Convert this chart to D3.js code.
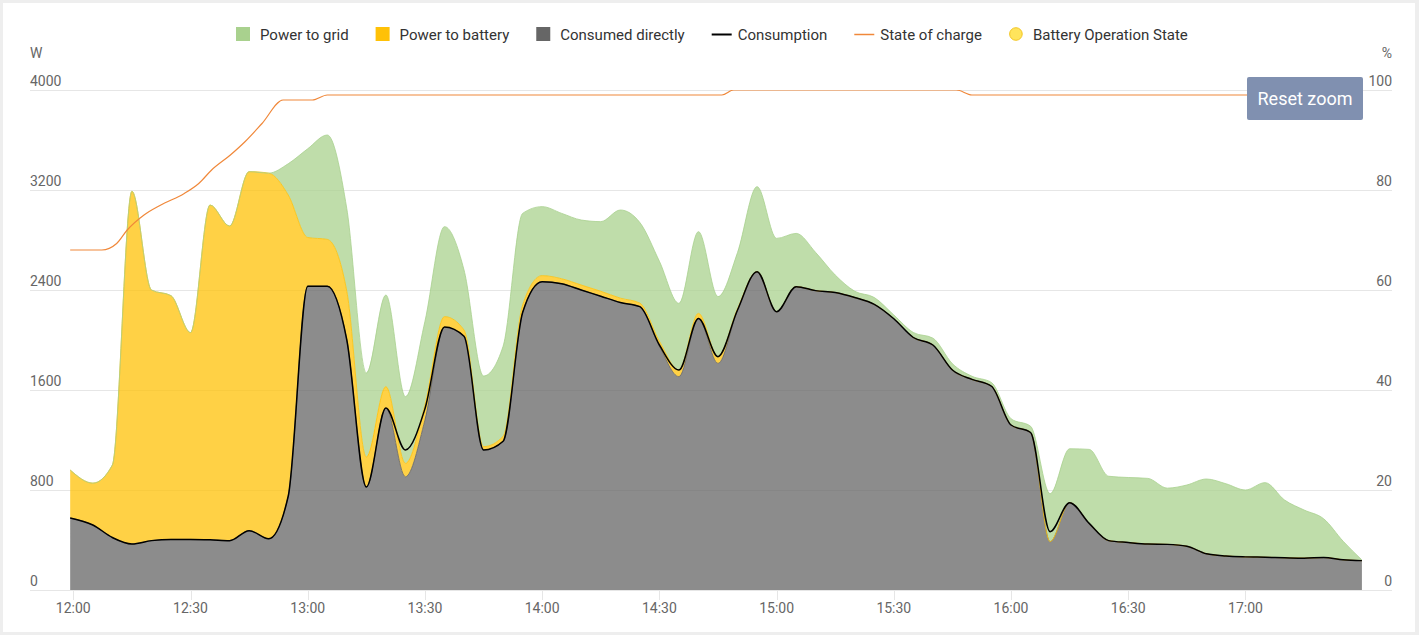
<!DOCTYPE html>
<html><head><meta charset="utf-8">
<script src="https://cdn.jsdelivr.net/npm/d3@7"></script>
<style>
html,body{margin:0;padding:0;background:#eeeeee;}
svg{display:block;font-family:Roboto,"Noto Sans",sans-serif;}
</style>
</head><body>
<svg id="chart" width="1419" height="635"></svg>
<script>
// ---------- DATA ----------
const times = ["11:59:12","12:05","12:10","12:15","12:20","12:25","12:30","12:35","12:40","12:45","12:50","12:55",
"13:00","13:05","13:10","13:15","13:20","13:25","13:30","13:35","13:40","13:45","13:50","13:55",
"14:00","14:05","14:10","14:15","14:20","14:25","14:30","14:35","14:40","14:45","14:50","14:55",
"15:00","15:05","15:10","15:15","15:20","15:25","15:30","15:35","15:40","15:45","15:50","15:55",
"16:00","16:05","16:10","16:15","16:20","16:25","16:30","16:35","16:40","16:45","16:50","16:55",
"17:00","17:05","17:10","17:15","17:20","17:25","17:29:48"];

const consumedDirectly = [576,520,420,368,395,405,405,402,395,475,410,750,2430,2430,2000,824,1456,906,1360,2100,2030,
1120,1190,2220,2467,2450,2400,2350,2300,2267,1950,1707,2173,1813,2240,2547,2227,2427,2395,2380,2340,
2285,2170,2020,1960,1760,1685,1630,1320,1260,387,699,533,395,380,368,365,350,290,272,265,262,258,255,260,242,235];

const powerToBattery = [384,335,580,2822,2005,1950,1655,2678,2517,2872,2925,2410,390,375,390,240,171,107,120,87,
50,27,40,60,48,40,40,40,35,28,40,53,40,54,10,0,0,0,0,0,0,0,0,0,0,0,0,0,0,0,0,0,0,0,0,0,0,0,0,0,0,0,0,0,0,0,0];

const powerToGrid = [0,0,0,0,0,0,0,0,0,0,0,250,710,835,660,672,733,534,670,720,480,
565,720,733,552,523,520,557,705,645,640,533,654,480,450,680,586,426,305,140,50,
55,30,40,55,50,25,30,50,50,383,431,592,515,520,525,450,490,598,578,535,597,462,385,310,148,5];

const consumption = [576,520,420,368,395,405,405,402,395,475,410,750,2430,2430,2000,824,1456,1120,1450,2105,2030,
1120,1190,2220,2467,2450,2400,2350,2300,2267,1960,1760,2173,1867,2240,2547,2227,2427,2395,2380,2340,
2285,2170,2020,1960,1760,1685,1630,1320,1260,467,699,533,395,380,368,365,350,290,272,265,262,258,255,260,242,235];

const socTimes = ["11:59:12","12:07:18","12:11:06","12:13:48","12:18:06","12:22:24","12:28:24","12:32:06","12:35:24",
"12:40:12","12:44:00","12:48:18","12:53:42","13:01:12","13:05:00","14:46:00","14:49:00","15:46:00","15:50:00","17:29:48"];
const socValues = [68,68,69.3,72,75,77,79.3,81.3,84,87,89.7,93.3,98,98,99,99,100,100,99,99];

const powerTicks = [0,800,1600,2400,3200,4000];
const socTicks = [0,20,40,60,80,100];
const timeTicks = ["12:00","12:30","13:00","13:30","14:00","14:30","15:00","15:30","16:00","16:30","17:00"];

const legendNames = ["Power to grid","Power to battery","Consumed directly","Consumption","State of charge","Battery Operation State"];
const legendTypes = ["square","square","square","line","line","circle"];
const seriesColors = {grid:"#a9d18e", battery:"#ffc107", direct:"#666666", consumption:"#000000", soc:"#f0883a", bos:"#ffe45c"};

// ---------- SETUP ----------
const parse = s => { const p = s.split(":").map(Number); return new Date(2024,0,1,p[0],p[1],p[2]||0); };
const svg = d3.select("#chart");
const W = 1419, H = 635;
const plot = {left:30, right:1392, top:90, bottom:590};

svg.append("rect").attr("x",3).attr("y",3).attr("width",W-7).attr("height",H-6).attr("fill","#ffffff");

const x = d3.scaleTime().domain([parse("11:48:55"), parse("17:37:30")]).range([plot.left, plot.right]);
const y = d3.scaleLinear().domain([0,4000]).range([plot.bottom, plot.top]);
const ys = d3.scaleLinear().domain([0,100]).range([plot.bottom, plot.top]);

// grid lines
const gridG = svg.append("g");
powerTicks.forEach(v=>{
  gridG.append("line").attr("x1",plot.left).attr("x2",plot.right)
    .attr("y1",Math.round(y(v))+0.5).attr("y2",Math.round(y(v))+0.5)
    .attr("stroke","#e6e6e6").attr("stroke-width",1);
});

// x axis ticks + labels
const xAxisG = svg.append("g");
timeTicks.forEach(t=>{
  const xx = Math.round(x(parse(t)))+0.5;
  xAxisG.append("line").attr("x1",xx).attr("x2",xx).attr("y1",plot.bottom).attr("y2",plot.bottom+10)
    .attr("stroke","#e6e6e6");
  xAxisG.append("text").attr("x",x(parse(t))).attr("y",613).attr("text-anchor","middle")
    .attr("font-size",14).attr("fill","#666666").text(t);
});

// left axis labels
powerTicks.forEach(v=>{
  svg.append("text").attr("x",plot.left).attr("y",y(v)-4).attr("font-size",14).attr("fill","#666666").text(v);
});
svg.append("text").attr("x",plot.left).attr("y",58).attr("font-size",14).attr("fill","#666666").text("W");
// right axis labels
socTicks.forEach(v=>{
  svg.append("text").attr("x",plot.right).attr("y",ys(v)-4).attr("text-anchor","end").attr("font-size",14).attr("fill","#666666").text(v);
});
svg.append("text").attr("x",plot.right).attr("y",58).attr("text-anchor","end").attr("font-size",14).attr("fill","#666666").text("%");

// clip
svg.append("clipPath").attr("id","clip").append("rect")
  .attr("x",plot.left).attr("y",plot.top).attr("width",plot.right-plot.left).attr("height",plot.bottom-plot.top);
const g = svg.append("g").attr("clip-path","url(#clip)");

// stacked areas
const rows = times.map((t,i)=>({t:parse(t), direct:consumedDirectly[i], battery:powerToBattery[i], grid:powerToGrid[i]}));
const stack = d3.stack().keys(["direct","battery","grid"]);
const layers = stack(rows);
const area = d3.area().x(d=>x(d.data.t)).y0(d=>y(d[0])).y1(d=>y(d[1])).curve(d3.curveMonotoneX);
const topLine = d3.line().x(d=>x(d.data.t)).y(d=>y(d[1])).curve(d3.curveMonotoneX);
layers.forEach(L=>{
  const c = seriesColors[L.key];
  g.append("path").datum(L).attr("d",area).attr("fill",c).attr("fill-opacity",0.75).attr("stroke","none");
});
layers.forEach(L=>{
  const c = seriesColors[L.key];
  g.append("path").datum(L).attr("d",topLine).attr("fill","none").attr("stroke",c).attr("stroke-width",1).attr("stroke-opacity",0.8);
});

// consumption line
const cons = times.map((t,i)=>({t:parse(t), v:consumption[i]}));
g.append("path").datum(cons)
  .attr("d", d3.line().x(d=>x(d.t)).y(d=>y(d.v)).curve(d3.curveMonotoneX))
  .attr("fill","none").attr("stroke",seriesColors.consumption).attr("stroke-width",1.5);

// SOC line
const soc = socTimes.map((t,i)=>({t:parse(t), v:socValues[i]}));
g.append("path").datum(soc)
  .attr("d", d3.line().x(d=>x(d.t)).y(d=>ys(d.v)).curve(d3.curveMonotoneX))
  .attr("fill","none").attr("stroke",seriesColors.soc).attr("stroke-width",1.2);

// legend
const legend = svg.append("g");
const legendColors = [seriesColors.grid, seriesColors.battery, seriesColors.direct, seriesColors.consumption, seriesColors.soc, seriesColors.bos];
let cx = 0;
const legendY = 34;
legendNames.forEach((name,i)=>{
  const type = legendTypes[i];
  const it = legend.append("g");
  let symW;
  if(type==="square"){
    symW = 14;
    it.append("rect").attr("x",cx).attr("y",legendY-7).attr("width",14).attr("height",14).attr("fill",legendColors[i]);
    cx += 14 + 10;
  } else if(type==="line"){
    it.append("line").attr("x1",cx).attr("x2",cx+20).attr("y1",legendY+0.5).attr("y2",legendY+0.5)
      .attr("stroke",legendColors[i]).attr("stroke-width", i===3?2:1.5);
    cx += 20 + 6;
  } else {
    it.append("circle").attr("cx",cx+7).attr("cy",legendY).attr("r",6.3).attr("fill",legendColors[i]).attr("stroke","#f3c623").attr("stroke-width",1);
    cx += 14 + 10;
  }
  const tx = it.append("text").attr("x",cx).attr("y",legendY+5.5).attr("font-size",15).attr("fill","#333333").text(name);
  cx += tx.node().getComputedTextLength() + 27;
});
const legendWidth = cx - 27;
legend.attr("transform",`translate(${Math.round(712 - legendWidth/2)},0)`);

// reset zoom button
const btn = svg.append("g");
btn.append("rect").attr("x",1247).attr("y",77).attr("width",116).attr("height",43).attr("rx",2).attr("fill","#8090b0");
btn.append("text").attr("x",1305).attr("y",104.5).attr("text-anchor","middle").attr("font-size",18).attr("fill","#ffffff").text("Reset zoom");
</script>
</body></html>
